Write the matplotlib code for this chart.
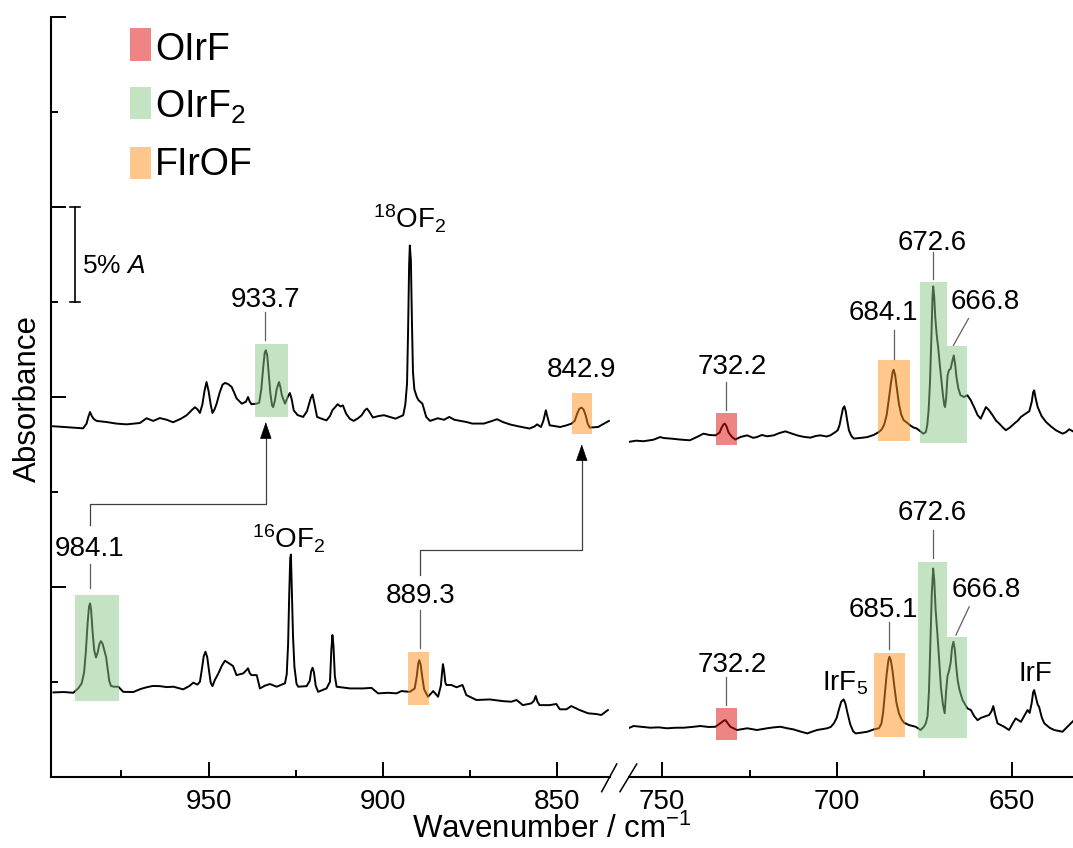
import matplotlib
matplotlib.use("Agg")
import matplotlib.pyplot as plt
from matplotlib.patches import Rectangle
from matplotlib.lines import Line2D
from matplotlib.ticker import MultipleLocator, NullFormatter

plt.rcParams['font.family'] = ['Liberation Sans', 'DejaVu Sans']
plt.rcParams['mathtext.fontset'] = 'custom'
plt.rcParams['mathtext.rm'] = 'Liberation Sans'
plt.rcParams['mathtext.it'] = 'Liberation Sans:italic'
plt.rcParams['mathtext.bf'] = 'Liberation Sans:bold'

# ---------------- data: (wavenumber / cm-1, absorbance) ----------------
upper_left = [
    (994.6, 0.1846), (990.0, 0.1840), (986.0, 0.1835), (985.0, 0.1860), (984.5, 0.1895), (984.0, 0.1921),
    (983.5, 0.1900), (983.0, 0.1885), (982.1, 0.1874), (979.2, 0.1868), (976.5, 0.1860), (973.5, 0.1856),
    (969.7, 0.1863), (967.8, 0.1888), (965.9, 0.1874), (964.0, 0.1889), (962.0, 0.1880), (960.2, 0.1867),
    (958.0, 0.1885), (956.3, 0.1904), (954.6, 0.1935), (953.9, 0.1946), (953.2, 0.1935), (952.5, 0.1916),
    (951.8, 0.1960), (951.2, 0.2030), (950.6, 0.2079), (950.0, 0.2030), (949.4, 0.1960), (948.9, 0.1916),
    (948.3, 0.1935), (947.7, 0.1965), (946.8, 0.2025), (946.0, 0.2065), (945.3, 0.2074), (944.4, 0.2068),
    (943.4, 0.2053), (942.6, 0.2020), (942.0, 0.1993), (940.5, 0.1965), (939.3, 0.1975), (938.7, 0.2000),
    (938.2, 0.1975), (937.7, 0.1962), (936.2, 0.1965), (935.5, 0.1970), (934.9, 0.2040), (934.3, 0.2165),
    (933.9, 0.2235), (933.6, 0.2246), (933.2, 0.2220), (932.8, 0.2130), (932.3, 0.2020), (931.8, 0.1955),
    (931.5, 0.1947), (931.0, 0.1980), (930.5, 0.2040), (930.0, 0.2070), (929.8, 0.2079), (929.4, 0.2050),
    (929.0, 0.2009), (928.1, 0.1965), (927.2, 0.2005), (926.7, 0.2021), (926.2, 0.1990), (925.6, 0.1930),
    (924.5, 0.1905), (922.9, 0.1895), (921.8, 0.1925), (921.3, 0.1956), (920.7, 0.1995), (920.2, 0.2013),
    (919.6, 0.1960), (918.9, 0.1895), (917.5, 0.1885), (916.2, 0.1877), (915.2, 0.1900), (914.5, 0.1930),
    (913.0, 0.1962), (912.2, 0.1950), (911.5, 0.1956), (910.6, 0.1913), (909.5, 0.1885), (908.4, 0.1874),
    (907.0, 0.1890), (906.1, 0.1904), (905.2, 0.1930), (904.6, 0.1939), (904.0, 0.1925), (902.9, 0.1892),
    (901.2, 0.1900), (899.7, 0.1904), (898.0, 0.1895), (896.4, 0.1886), (894.2, 0.1904), (893.6, 0.1960),
    (893.1, 0.2071), (892.8, 0.2350), (892.5, 0.2700), (892.3, 0.2798), (892.0, 0.2720), (891.7, 0.2400),
    (891.4, 0.2130), (891.0, 0.2040), (890.3, 0.2000), (889.8, 0.1983), (888.7, 0.1965), (887.6, 0.1895),
    (886.5, 0.1874), (884.3, 0.1888), (882.5, 0.1880), (881.0, 0.1895), (879.5, 0.1880), (877.7, 0.1874),
    (876.0, 0.1868), (874.4, 0.1860), (871.1, 0.1860), (869.0, 0.1872), (867.3, 0.1883), (865.6, 0.1868),
    (863.5, 0.1855), (861.3, 0.1846), (858.0, 0.1834), (856.5, 0.1845), (855.8, 0.1856), (854.7, 0.1842),
    (854.0, 0.1875), (853.5, 0.1915), (853.3, 0.1930), (852.9, 0.1900), (852.2, 0.1851), (849.2, 0.1842),
    (847.5, 0.1850), (845.9, 0.1860), (845.0, 0.1875), (844.3, 0.1913), (843.7, 0.1938), (843.1, 0.1944),
    (842.5, 0.1935), (841.9, 0.1905), (841.3, 0.1860), (840.7, 0.1839), (838.3, 0.1842), (836.6, 0.1860),
    (835.2, 0.1874)]

upper_right = [
    (759.7, 0.1763), (757.5, 0.1770), (755.4, 0.1767), (752.5, 0.1775), (750.6, 0.1789), (749.6, 0.1784),
    (747.0, 0.1780), (745.0, 0.1776), (742.1, 0.1772), (740.0, 0.1790), (738.2, 0.1807), (736.5, 0.1800),
    (734.8, 0.1798), (733.6, 0.1812), (733.1, 0.1835), (732.5, 0.1855), (732.1, 0.1860), (731.6, 0.1845),
    (731.0, 0.1812), (730.0, 0.1789), (729.1, 0.1776), (727.5, 0.1790), (725.7, 0.1798), (724.0, 0.1785),
    (722.9, 0.1789), (721.5, 0.1800), (720.0, 0.1793), (718.1, 0.1798), (716.5, 0.1810), (714.8, 0.1819),
    (713.0, 0.1808), (711.4, 0.1798), (709.5, 0.1790), (707.6, 0.1786), (706.0, 0.1795), (704.7, 0.1798),
    (703.0, 0.1792), (701.9, 0.1798), (700.5, 0.1815), (699.8, 0.1825), (699.3, 0.1850), (698.7, 0.1905),
    (698.3, 0.1940), (697.9, 0.1951), (697.5, 0.1925), (697.1, 0.1877), (696.6, 0.1825), (695.9, 0.1795),
    (695.2, 0.1781), (693.0, 0.1785), (691.3, 0.1789), (689.5, 0.1800), (688.0, 0.1816), (687.2, 0.1830),
    (686.5, 0.1855), (685.8, 0.1905), (685.2, 0.1985), (684.6, 0.2070), (684.1, 0.2130), (683.8, 0.2144),
    (683.4, 0.2118), (682.9, 0.2050), (682.3, 0.1965), (681.6, 0.1905), (680.9, 0.1877), (680.0, 0.1865),
    (679.1, 0.1851), (678.2, 0.1840), (677.2, 0.1834), (676.2, 0.1820), (675.3, 0.1807), (674.6, 0.1815),
    (674.2, 0.1850), (673.8, 0.1930), (673.4, 0.2080), (673.0, 0.2320), (672.7, 0.2520), (672.5, 0.2583),
    (672.2, 0.2530), (671.9, 0.2420), (671.5, 0.2330), (671.0, 0.2250), (670.6, 0.2170), (670.2, 0.2100),
    (669.7, 0.2010), (669.3, 0.1955), (669.1, 0.1947), (668.8, 0.1990), (668.4, 0.2110), (668.0, 0.2141),
    (667.5, 0.2149), (667.0, 0.2190), (666.6, 0.2219), (666.2, 0.2170), (665.8, 0.2100), (665.3, 0.2045),
    (664.7, 0.2010), (663.7, 0.2000), (662.7, 0.2009), (661.8, 0.1985), (660.8, 0.1947), (659.8, 0.1905),
    (658.9, 0.1886), (658.2, 0.1915), (657.4, 0.1947), (656.5, 0.1930), (655.5, 0.1904), (654.5, 0.1875),
    (653.6, 0.1860), (652.6, 0.1840), (651.7, 0.1825), (650.5, 0.1840), (649.3, 0.1860), (648.3, 0.1875),
    (647.4, 0.1895), (646.0, 0.1913), (645.0, 0.1925), (644.3, 0.1975), (643.9, 0.2025), (643.6, 0.2035),
    (643.2, 0.1995), (642.6, 0.1947), (641.5, 0.1900), (640.2, 0.1868), (638.8, 0.1845), (637.4, 0.1825),
    (635.5, 0.1807), (634.5, 0.1815), (633.6, 0.1830), (632.2, 0.1816)]

lower_left = [
    (994.5, 0.0444), (991.5, 0.0446), (988.8, 0.0442), (987.4, 0.0465), (986.4, 0.0492), (985.7, 0.0550),
    (985.2, 0.0660), (984.7, 0.0810), (984.3, 0.0895), (984.0, 0.0913), (983.7, 0.0880), (983.3, 0.0770),
    (982.8, 0.0665), (982.3, 0.0628), (981.8, 0.0655), (981.3, 0.0700), (980.9, 0.0714), (980.4, 0.0700),
    (979.9, 0.0665), (979.4, 0.0630), (979.0, 0.0575), (978.5, 0.0505), (978.0, 0.0478), (977.2, 0.0474),
    (975.9, 0.0474), (974.5, 0.0447), (971.6, 0.0446), (969.5, 0.0462), (967.8, 0.0471), (966.0, 0.0478),
    (964.0, 0.0477), (962.0, 0.0472), (960.1, 0.0474), (957.3, 0.0460), (955.5, 0.0478), (954.4, 0.0495),
    (953.2, 0.0485), (952.5, 0.0500), (951.9, 0.0570), (951.4, 0.0635), (950.9, 0.0658), (950.4, 0.0630),
    (949.9, 0.0560), (949.4, 0.0495), (948.9, 0.0477), (948.2, 0.0510), (947.2, 0.0544), (946.2, 0.0585),
    (945.3, 0.0611), (944.0, 0.0595), (943.0, 0.0583), (942.0, 0.0535), (940.1, 0.0544), (939.2, 0.0560),
    (938.7, 0.0571), (938.2, 0.0545), (937.7, 0.0535), (936.2, 0.0535), (935.5, 0.0480), (935.3, 0.0465),
    (933.8, 0.0480), (932.4, 0.0488), (930.5, 0.0474), (928.1, 0.0492), (927.6, 0.0540), (927.2, 0.0702),
    (926.9, 0.0950), (926.6, 0.1150), (926.4, 0.1170), (926.1, 0.0960), (925.8, 0.0740), (925.4, 0.0580),
    (924.8, 0.0490), (924.3, 0.0474), (921.9, 0.0477), (921.0, 0.0505), (920.6, 0.0555), (920.2, 0.0574),
    (919.8, 0.0550), (919.3, 0.0480), (918.6, 0.0447), (916.2, 0.0465), (915.2, 0.0500), (914.8, 0.0670),
    (914.5, 0.0746), (914.2, 0.0690), (913.8, 0.0530), (913.3, 0.0474), (909.5, 0.0465), (905.6, 0.0465),
    (903.3, 0.0468), (901.4, 0.0439), (898.5, 0.0442), (896.1, 0.0439), (894.7, 0.0451), (892.3, 0.0447),
    (890.9, 0.0465), (890.3, 0.0530), (889.9, 0.0595), (889.6, 0.0614), (889.2, 0.0590), (888.7, 0.0520),
    (888.2, 0.0460), (887.1, 0.0421), (885.6, 0.0451), (884.2, 0.0421), (883.4, 0.0480), (883.0, 0.0560),
    (882.8, 0.0593), (882.5, 0.0560), (882.1, 0.0495), (881.8, 0.0483), (880.4, 0.0483), (878.9, 0.0471),
    (877.2, 0.0483), (876.1, 0.0430), (873.2, 0.0404), (869.4, 0.0407), (865.6, 0.0398), (863.2, 0.0395),
    (861.7, 0.0404), (859.9, 0.0377), (857.5, 0.0386), (856.7, 0.0400), (856.2, 0.0425), (855.7, 0.0395),
    (855.1, 0.0377), (852.2, 0.0377), (850.3, 0.0383), (849.3, 0.0355), (847.4, 0.0355), (846.0, 0.0372),
    (843.6, 0.0351), (841.2, 0.0334), (838.8, 0.0330), (837.4, 0.0325), (835.5, 0.0351)]

lower_right = [
    (759.7, 0.0255), (758.2, 0.0267), (755.5, 0.0262), (753.4, 0.0258), (751.0, 0.0260), (748.7, 0.0255),
    (746.0, 0.0258), (743.9, 0.0258), (741.5, 0.0262), (739.1, 0.0267), (736.8, 0.0262), (734.8, 0.0263),
    (733.4, 0.0281), (732.4, 0.0295), (731.9, 0.0298), (731.2, 0.0280), (730.5, 0.0263), (728.6, 0.0246),
    (725.7, 0.0255), (722.9, 0.0246), (720.0, 0.0255), (718.0, 0.0260), (716.2, 0.0263), (714.2, 0.0255),
    (712.4, 0.0249), (710.5, 0.0238), (708.5, 0.0228), (707.0, 0.0238), (705.7, 0.0246), (702.8, 0.0255),
    (701.8, 0.0262), (700.9, 0.0281), (700.1, 0.0310), (699.5, 0.0351), (698.8, 0.0395), (698.1, 0.0407),
    (697.6, 0.0385), (697.0, 0.0335), (696.2, 0.0275), (695.4, 0.0240), (694.7, 0.0228), (693.0, 0.0232),
    (691.3, 0.0237), (689.5, 0.0249), (688.0, 0.0255), (687.3, 0.0280), (686.8, 0.0340), (686.3, 0.0440),
    (685.8, 0.0540), (685.3, 0.0612), (685.0, 0.0632), (684.6, 0.0612), (684.1, 0.0555), (683.6, 0.0475),
    (683.0, 0.0390), (682.3, 0.0334), (681.5, 0.0300), (680.8, 0.0284), (679.4, 0.0272), (677.5, 0.0263),
    (676.1, 0.0246), (675.2, 0.0262), (674.6, 0.0281), (674.1, 0.0320), (673.7, 0.0450), (673.3, 0.0700),
    (672.9, 0.0960), (672.5, 0.1097), (672.2, 0.1040), (671.8, 0.0880), (671.3, 0.0755), (670.8, 0.0620),
    (670.3, 0.0474), (669.7, 0.0380), (669.2, 0.0334), (668.8, 0.0450), (668.4, 0.0530), (668.0, 0.0555),
    (667.5, 0.0600), (667.1, 0.0680), (666.7, 0.0711), (666.3, 0.0670), (665.9, 0.0580), (665.5, 0.0509),
    (665.0, 0.0460), (664.1, 0.0404), (662.7, 0.0360), (661.7, 0.0351), (660.8, 0.0320), (659.8, 0.0298),
    (658.8, 0.0310), (657.9, 0.0316), (656.5, 0.0325), (655.8, 0.0345), (655.3, 0.0372), (654.8, 0.0330),
    (654.1, 0.0281), (652.2, 0.0263), (650.8, 0.0246), (649.6, 0.0285), (648.9, 0.0307), (647.4, 0.0289),
    (646.3, 0.0325), (645.5, 0.0351), (644.9, 0.0336), (644.3, 0.0390), (643.9, 0.0445), (643.6, 0.0456),
    (643.2, 0.0425), (642.6, 0.0380), (642.2, 0.0368), (641.4, 0.0310), (640.7, 0.0281), (639.2, 0.0258),
    (637.9, 0.0246), (635.5, 0.0237), (634.1, 0.0263), (632.2, 0.0298)]

# highlight boxes: panel, species, wn_high, wn_low, a_bottom, a_top
box_panel = ['L', 'L', 'R', 'R', 'R', 'R', 'L', 'L', 'R', 'R', 'R', 'R']
box_species = ['OIrF2', 'FIrOF', 'OIrF', 'FIrOF', 'OIrF2', 'OIrF2',
               'OIrF2', 'FIrOF', 'OIrF', 'FIrOF', 'OIrF2', 'OIrF2']
box_wn_hi = [936.7, 845.9, 734.6, 688.3, 676.3, 668.5, 988.3, 892.8, 734.6, 689.5, 676.7, 668.5]
box_wn_lo = [927.2, 840.1, 728.7, 679.1, 668.5, 662.8, 975.7, 886.8, 728.7, 680.6, 668.5, 662.8]
box_a_lo = [0.1895, 0.1804, 0.1749, 0.1768, 0.1760, 0.1760, 0.0398, 0.0377, 0.0193, 0.0207, 0.0205, 0.0205]
box_a_hi = [0.2277, 0.2023, 0.1918, 0.2193, 0.2605, 0.2267, 0.0956, 0.0658, 0.0363, 0.0649, 0.1132, 0.0737]

species = ['OIrF', 'OIrF$_2$', 'FIrOF']
species_keys = ['OIrF', 'OIrF2', 'FIrOF']
species_colors = {'OIrF': '#E10B0B', 'OIrF2': '#89C989', 'FIrOF': '#FF9119'}

# peak labels: panel, text, wn, a_center
lab_panel = ['L', 'L', 'L', 'L', 'L', 'L', 'R', 'R', 'R', 'R', 'R', 'R', 'R', 'R', 'R', 'R']
lab_text = ['933.7', '842.9', '$^{18}$OF$_2$', '984.1', '$^{16}$OF$_2$', '889.3',
            '732.2', '684.1', '672.6', '666.8',
            '732.2', '685.1', '672.6', '666.8', 'IrF$_5$', 'IrF']
lab_wn = [933.8, 843.0, 892.3, 984.0, 927.0, 889.2,
          730.0, 686.8, 672.8, 657.7,
          730.0, 686.7, 672.7, 657.4, 697.6, 643.4]
lab_a = [0.2525, 0.2156, 0.2940, 0.1214, 0.1256, 0.0967,
         0.2176, 0.2456, 0.2825, 0.2518,
         0.0605, 0.0895, 0.1404, 0.1000, 0.0509, 0.0556]

# leader lines: panel, wn_start, a_start, wn_end, a_end
lead_panel = ['L', 'L', 'L', 'R', 'R', 'R', 'R', 'R', 'R', 'R', 'R']
lead_wn0 = [933.7, 984.0, 889.5, 731.7, 683.7, 672.5, 662.4, 731.7, 685.0, 672.5, 662.2]
lead_a0 = [0.2446, 0.1120, 0.0877, 0.2079, 0.2351, 0.2765, 0.2413, 0.0526, 0.0816, 0.1298, 0.0895]
lead_wn1 = [933.7, 984.0, 889.5, 731.7, 683.7, 672.5, 666.7, 731.7, 685.0, 672.5, 666.0]
lead_a1 = [0.2298, 0.0992, 0.0677, 0.1934, 0.2202, 0.2620, 0.2272, 0.0377, 0.0672, 0.1151, 0.0746]

# connecting arrows (lower product -> upper product)
arrow_wn_from = [984.0, 889.5]
arrow_a_from = [0.1328, 0.1062]
arrow_a_turn = [0.1439, 0.1193]
arrow_wn_to = [933.6, 843.0]
arrow_a_tip = [0.1868, 0.1751]

# --------------------------------------------------------------------
W, H = 1073, 848
fig = plt.figure(figsize=(W / 100, H / 100), dpi=100)


def fx(px):
    return px / W


def fy(py):
    return 1 - py / H


bottom_px, top_px = 776.7, 17.3
axL = fig.add_axes([fx(51), fy(bottom_px), (610 - 51) / W, (bottom_px - top_px) / H])
axR = fig.add_axes([fx(629), fy(bottom_px), (1073 - 629) / W, (bottom_px - top_px) / H])
axes = {'L': axL, 'R': axR}

axL.set_xlim(995.2, 834.9)
axR.set_xlim(759.5, 632.5)
for ax in (axL, axR):
    ax.set_ylim(0, 0.4)
    ax.patch.set_alpha(0)
    ax.spines['top'].set_visible(False)
    ax.spines['right'].set_visible(False)
    for s in ax.spines.values():
        s.set_linewidth(1.5)
    ax.xaxis.set_major_locator(MultipleLocator(50))
    ax.xaxis.set_minor_locator(MultipleLocator(25))
    ax.tick_params(axis='x', which='major', direction='in', length=10.5, width=1.4,
                   labelsize=20, pad=9)
    ax.tick_params(axis='x', which='minor', direction='in', length=5.3, width=1.4)

axL.yaxis.set_major_locator(MultipleLocator(0.1))
axL.yaxis.set_minor_locator(MultipleLocator(0.05))
axL.yaxis.set_major_formatter(NullFormatter())
axL.tick_params(axis='y', which='major', direction='in', length=10.5, width=1.4)
axL.tick_params(axis='y', which='minor', direction='in', length=5.3, width=1.4)
axR.spines['left'].set_visible(False)
axR.set_yticks([])

line_kw = dict(color='black', lw=1.4, zorder=3, solid_joinstyle='round')
for ax, spec in ((axL, upper_left), (axL, lower_left), (axR, upper_right), (axR, lower_right)):
    wn, a = zip(*spec)
    ax.plot(wn, a, **line_kw)

for p, sp, hi, lo, a0, a1 in zip(box_panel, box_species, box_wn_hi, box_wn_lo, box_a_lo, box_a_hi):
    axes[p].add_patch(Rectangle((lo, a0), hi - lo, a1 - a0, facecolor=species_colors[sp],
                                alpha=0.5, edgecolor='none', zorder=4))

for p, t, w, a in zip(lab_panel, lab_text, lab_wn, lab_a):
    axes[p].annotate(t, xy=(w, a), xytext=(0, -7.2), textcoords='offset points',
                     ha='center', va='baseline', fontsize=20, zorder=6)

for p, w0, a0, w1, a1 in zip(lead_panel, lead_wn0, lead_a0, lead_wn1, lead_a1):
    axes[p].plot([w0, w1], [a0, a1], color='#606060', lw=0.9, zorder=5)

for wf, af, at, wt, tip in zip(arrow_wn_from, arrow_a_from, arrow_a_turn, arrow_wn_to, arrow_a_tip):
    axL.plot([wf, wf, wt, wt], [af, at, at, tip - 0.006], color='#404040', lw=0.9, zorder=5)
    axL.annotate('', xy=(wt, tip), xytext=(wt, tip - 0.0085),
                 arrowprops=dict(arrowstyle='-|>,head_length=1.1,head_width=0.38',
                                 mutation_scale=10, color='black', lw=0.5,
                                 shrinkA=0, shrinkB=0), zorder=6)

# scale bar 5% A
axL.plot([988.3, 988.3], [0.25, 0.30], color='black', lw=1.2)
axL.plot([989.7, 986.8], [0.30, 0.30], color='black', lw=1.2)
axL.plot([989.7, 986.8], [0.25, 0.25], color='black', lw=1.2)
axL.annotate('5% $\\mathit{A}$', xy=(986.3, 0.2704), xytext=(0, -7), textcoords='offset points',
             ha='left', va='baseline', fontsize=19)

# legend
leg_top = [28.3, 86.7, 146.7]
leg_base = [60.0, 117.3, 175.0]
for name, key, t, b in zip(species, species_keys, leg_top, leg_base):
    fig.add_artist(Rectangle((fx(130), fy(t + 32.3)), 20.7 / W, 32.3 / H, transform=fig.transFigure,
                             facecolor=species_colors[key], alpha=0.5, edgecolor='none'))
    fig.text(fx(155), fy(b), name, fontsize=27, ha='left', va='baseline')

# axis labels
fig.text(fx(28), fy(399), 'Absorbance', rotation=90, fontsize=22.5, ha='center', va='center')
fig.text(fx(552), fy(838), 'Wavenumber / cm$^{-1}$', fontsize=22.5, ha='center', va='baseline')

# axis break marks
for x0, x1 in ((601.7, 616.7), (620.0, 636.7)):
    fig.add_artist(Line2D([fx(x0), fx(x1)], [fy(791.7), fy(764.0)], transform=fig.transFigure,
                          color='black', lw=1.1))

fig.savefig('out.png', dpi=100)
